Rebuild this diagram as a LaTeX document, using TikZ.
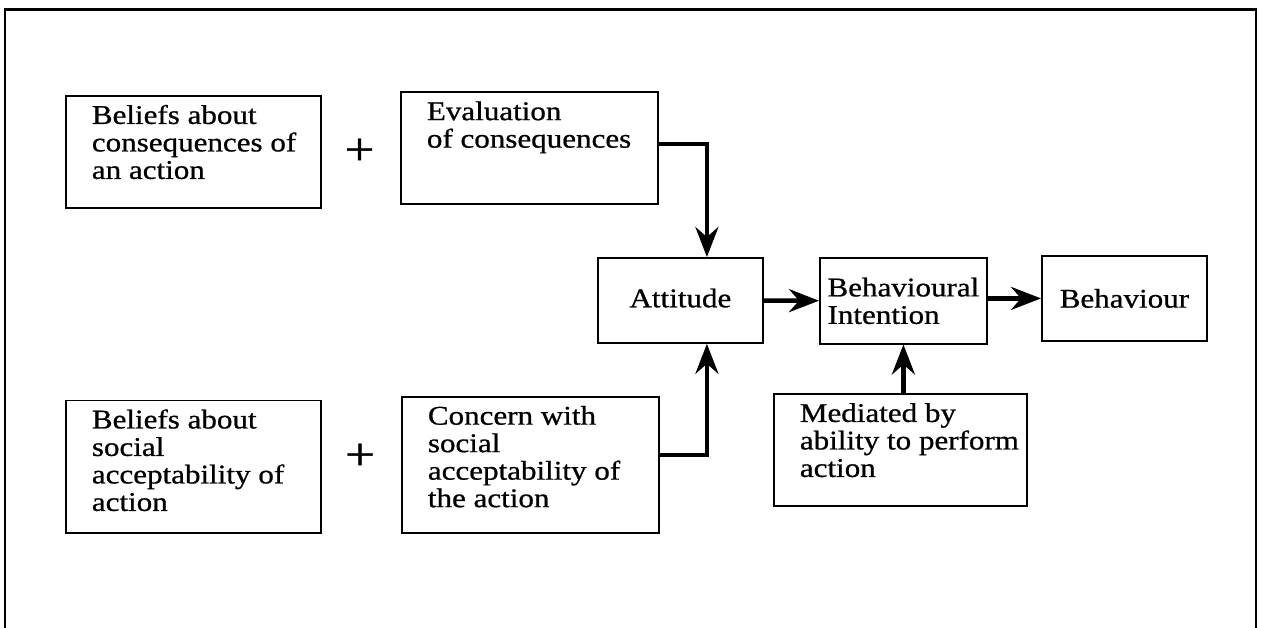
\documentclass[tikz,border=0pt]{standalone}
\usepackage{fontspec}
\setmainfont[FakeStretch=1.15,FakeBold=0.8]{Liberation Serif}
\usetikzlibrary{arrows.meta}
\newcommand{\boxtext}[3]{\parbox[c][#2pt][t]{#1pt}{\vspace*{9pt}\leftskip=26pt\relax #3}}
\begin{document}
\begin{tikzpicture}[x=1pt,y=-1pt,
        blk/.style={draw,line width=1.8pt,inner sep=0pt,anchor=north west},
        flow/.style={line width=4.5pt,-{Stealth[length=30pt,width=23pt,inset=10pt]}},
        plus/.style={font=\fontsize{46}{46}\selectfont},
        font=\fontsize{27}{27.5}\selectfont]
        \useasboundingbox (0,0) rectangle (1263,628);
        \draw[line width=2.2pt] (5,628) -- (5,9.5) -- (1256,9.5) -- (1256,628);
        \node[blk] (belcons) at (65,95) {\boxtext{255}{112}{Beliefs about\\consequences of\\an action}};
        \node[blk] (evalcons) at (400,91.5) {\boxtext{257}{111.5}{Evaluation\\of consequences}};
        \node[blk] (belsoc) at (65,399.5) {\boxtext{255}{132.5}{Beliefs about\\social\\acceptability of\\action}};
        \node[blk] (concern) at (401,396) {\boxtext{257}{135.7}{Concern with\\social\\acceptability of\\the action}};
        \node[plus] (plusA) at (359.5,151.7) {+};
        \node[plus] (plusB) at (360,456.7) {+};
        \node[blk,minimum width=165pt,minimum height=85pt,text depth=5pt] (att) at (597,257) {Attitude};
        \node[blk,minimum width=167pt,minimum height=85.4pt,align=left] (bint) at (819,257.3) {Behavioural\\Intention};
        \node[blk,minimum width=165pt,minimum height=85pt] (beh) at (1041,255) {Behaviour};
        \node[blk] (med) at (773,393.3) {\boxtext{253}{111.7}{Mediated by\\ability to perform\\action}};
        \draw[flow] ([yshift=4pt]evalcons.east) -| ([xshift=26.5pt]att.north);
        \draw[flow] ([yshift=10pt]concern.east) -| ([xshift=26.5pt]att.south);
        \draw[flow] (att) -- (bint);
        \draw[flow] (bint.east |- beh.west) -- (beh.west);
        \draw[flow] (med.north -| bint.south) -- (bint.south);
    \end{tikzpicture}
\end{document}
